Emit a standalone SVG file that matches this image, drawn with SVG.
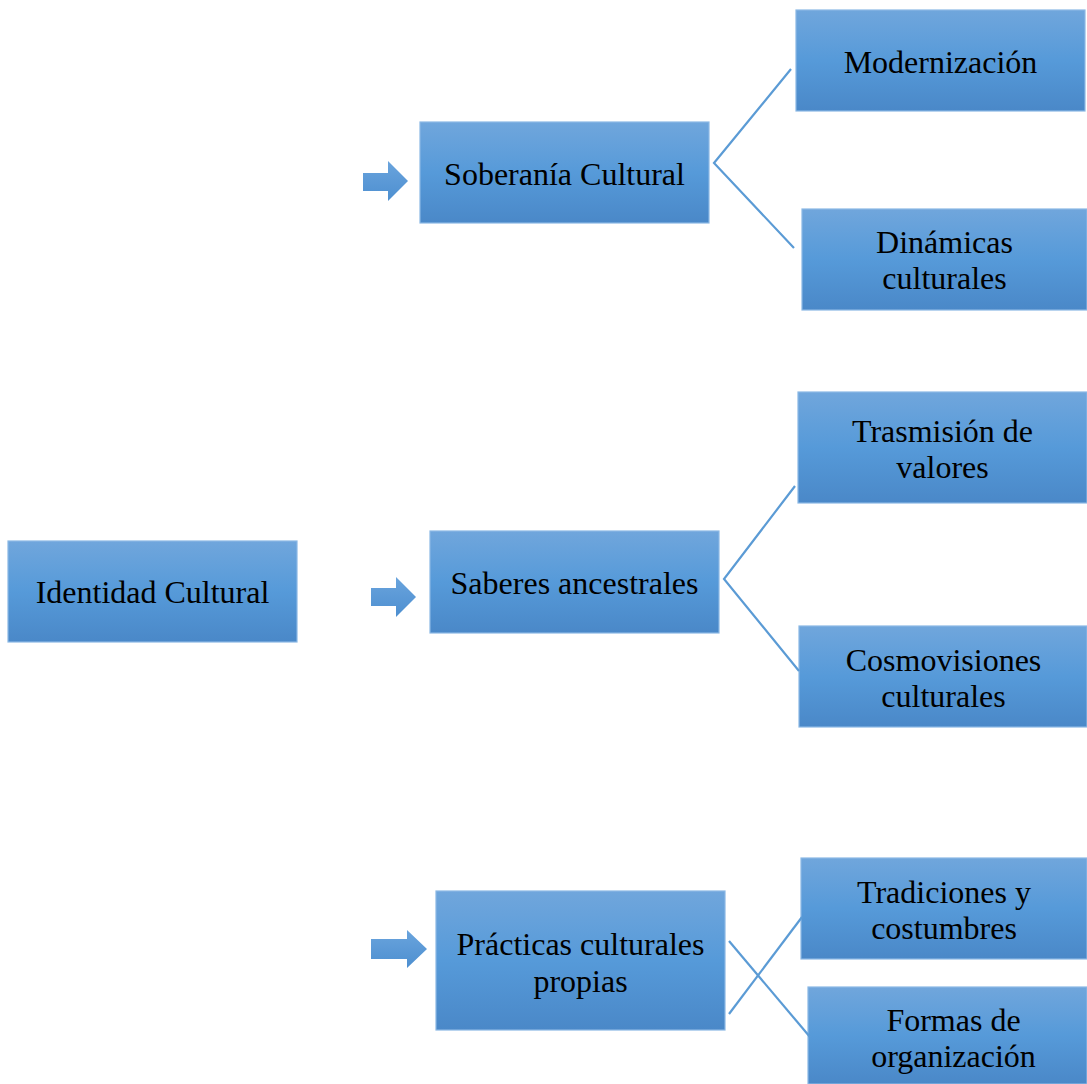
<svg xmlns="http://www.w3.org/2000/svg" width="1087" height="1084" viewBox="0 0 1087 1084">
<defs>
<linearGradient id="g" x1="0" y1="0" x2="0" y2="1">
<stop offset="0" stop-color="#70a6dc"/>
<stop offset="0.5" stop-color="#569ad9"/>
<stop offset="1" stop-color="#4a88c8"/>
</linearGradient>
<linearGradient id="ga" x1="0" y1="0" x2="0" y2="1">
<stop offset="0" stop-color="#6aa4dd"/>
<stop offset="1" stop-color="#4d8fd0"/>
</linearGradient>
</defs>
<style>
.box{fill:url(#g);stroke:#8ab8e4;stroke-width:1.2}
.t{font-family:"Liberation Serif","Times New Roman",serif;font-size:32px;fill:#000;text-anchor:middle}
.c{stroke:#5b9bd5;stroke-width:2.2;fill:none}
.arr{fill:url(#ga)}
</style>
<g id="identidad"><rect class="box" x="8" y="541" width="289" height="101"/><text class="t" x="152.5" y="603">Identidad Cultural</text></g>
<g id="soberania"><rect class="box" x="420" y="122" width="289" height="101"/><text class="t" x="564.5" y="185">Soberanía Cultural</text></g>
<g id="modernizacion"><rect class="box" x="796" y="10" width="289" height="101"/><text class="t" x="940.5" y="73">Modernización</text></g>
<g id="dinamicas"><rect class="box" x="802" y="209" width="285" height="101"/><text class="t" x="944.5" y="253">Dinámicas</text><text class="t" x="944.5" y="289">culturales</text></g>
<g id="trasmision"><rect class="box" x="798" y="392" width="289" height="111"/><text class="t" x="942.5" y="442">Trasmisión de</text><text class="t" x="942.5" y="478">valores</text></g>
<g id="saberes"><rect class="box" x="430" y="531" width="289" height="102"/><text class="t" x="574.5" y="594">Saberes ancestrales</text></g>
<g id="cosmovisiones"><rect class="box" x="799" y="626" width="288" height="101"/><text class="t" x="943.5" y="671">Cosmovisiones</text><text class="t" x="943.5" y="707">culturales</text></g>
<g id="practicas"><rect class="box" x="436" y="891" width="289" height="139"/><text class="t" x="580.5" y="955">Prácticas culturales</text><text class="t" x="580.5" y="992">propias</text></g>
<g id="tradiciones"><rect class="box" x="801" y="858" width="286" height="101"/><text class="t" x="944" y="903">Tradiciones y</text><text class="t" x="944" y="939">costumbres</text></g>
<g id="formas"><rect class="box" x="808" y="987" width="279" height="97"/><text class="t" x="953.5" y="1031">Formas de</text><text class="t" x="953.5" y="1067">organización</text></g>
<g id="arrows">
<polygon class="arr" points="363,173 388,173 388,161 408,181 388,201 388,191 363,191"/>
<polygon class="arr" points="371,588 396,588 396,577 416,597 396,617 396,606 371,606"/>
<polygon class="arr" points="371,939 407,939 407,930 427,949 407,968 407,959 371,959"/>
</g>
<g id="connectors">
<polyline class="c" points="791,69 714,163 794,248"/>
<polyline class="c" points="795,486 724,579 799,671"/>
<line class="c" x1="729" y1="941" x2="810" y2="1037"/>
<line class="c" x1="729" y1="1014" x2="802" y2="917"/>
</g>
</svg>
